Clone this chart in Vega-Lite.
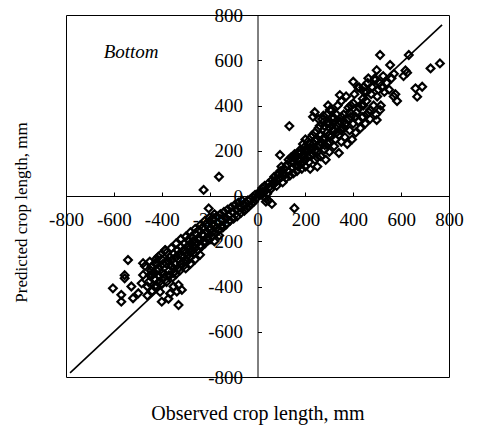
{
  "$schema": "https://vega.github.io/schema/vega-lite/v6.json",
  "width": 383,
  "height": 362,
  "autosize": {"type": "none"},
  "padding": {"left": 66, "top": 15, "right": 29, "bottom": 50},
  "background": "white",
  "config": {
    "view": {"stroke": "black", "strokeWidth": 1},
    "axis": {
      "grid": false,
      "domainColor": "black",
      "tickColor": "black",
      "labelColor": "black",
      "titleColor": "black",
      "labelFont": "Liberation Serif",
      "titleFont": "Liberation Serif",
      "labelFontSize": 19,
      "titleFontWeight": "normal",
      "labelFlush": false,
      "labelOverlap": false,
      "labelExpr": "'' + datum.value"
    }
  },
  "encoding": {
    "x": {
      "field": "x",
      "type": "quantitative",
      "scale": {"domain": [-800, 800], "nice": false, "zero": false},
      "axis": {
        "orient": "bottom",
        "offset": -181,
        "values": [-800, -600, -400, -200, 0, 200, 400, 600, 800],
        "tickSize": -4,
        "labelPadding": 18,
        "labelBaseline": "top",
        "title": "Observed crop length, mm",
        "titleFontSize": 20,
        "titleY": 217,
        "titleBaseline": "middle"
      }
    },
    "y": {
      "field": "y",
      "type": "quantitative",
      "scale": {"domain": [-800, 800], "nice": false, "zero": false},
      "axis": {
        "orient": "left",
        "offset": -191.5,
        "values": [-800, -600, -400, -200, 0, 200, 400, 600, 800],
        "tickSize": -4,
        "labelPadding": 19,
        "labelBaseline": "middle",
        "title": "Predicted crop length, mm",
        "titleFontSize": 17,
        "titleX": -236,
        "titleY": 197,
        "titleBaseline": "middle"
      }
    }
  },
  "layer": [
    {
      "data": {"values": [{"x": -783, "y": -782}, {"x": 771, "y": 756}]},
      "mark": {"type": "line", "color": "black", "strokeWidth": 1.6},
      "encoding": {}
    },
    {
      "data": {"values": [
        {"x":133,"y":309},{"x":512,"y":623},{"x":554,"y":579},{"x":632,"y":623},{"x":723,"y":564},{"x":762,"y":586},
        {"x":610,"y":530},{"x":618,"y":555},{"x":625,"y":545},{"x":660,"y":476},{"x":688,"y":483},{"x":667,"y":439},
        {"x":569,"y":440},{"x":583,"y":420},{"x":576,"y":450},{"x":512,"y":380},{"x":491,"y":512},{"x":498,"y":556},
        {"x":463,"y":520},{"x":400,"y":505},{"x":421,"y":480},{"x":442,"y":480},{"x":456,"y":460},{"x":442,"y":400},
        {"x":456,"y":360},{"x":470,"y":380},{"x":498,"y":336},{"x":351,"y":350},{"x":365,"y":317},{"x":344,"y":446},
        {"x":295,"y":400},{"x":302,"y":380},{"x":281,"y":225},{"x":232,"y":350},{"x":239,"y":370},
        {"x":5,"y":8},{"x":10,"y":20},{"x":15,"y":5},{"x":20,"y":35},{"x":25,"y":15},{"x":30,"y":45},{"x":35,"y":25},
        {"x":40,"y":10},{"x":45,"y":55},{"x":50,"y":40},{"x":55,"y":30},{"x":60,"y":70},{"x":65,"y":50},{"x":70,"y":85},
        {"x":75,"y":60},{"x":80,"y":45},{"x":85,"y":95},{"x":90,"y":75},{"x":95,"y":110},{"x":100,"y":85},{"x":105,"y":60},
        {"x":110,"y":120},{"x":115,"y":95},{"x":120,"y":80},{"x":125,"y":140},{"x":130,"y":110},{"x":135,"y":90},
        {"x":45,"y":-20},{"x":60,"y":-35},{"x":35,"y":-10},{"x":94,"y":181},
        {"x":140,"y":170},{"x":145,"y":125},{"x":150,"y":100},{"x":150,"y":150},{"x":155,"y":185},{"x":160,"y":135},
        {"x":165,"y":110},{"x":170,"y":160},{"x":175,"y":200},{"x":180,"y":140},{"x":185,"y":120},{"x":190,"y":175},
        {"x":195,"y":215},{"x":200,"y":160},{"x":200,"y":130},{"x":205,"y":195},{"x":210,"y":240},{"x":215,"y":150},
        {"x":220,"y":120},{"x":220,"y":210},{"x":225,"y":260},{"x":230,"y":185},{"x":235,"y":230},{"x":240,"y":160},
        {"x":240,"y":280},{"x":245,"y":205},{"x":250,"y":250},{"x":250,"y":130},{"x":255,"y":300},{"x":260,"y":225},
        {"x":265,"y":175},{"x":265,"y":270},{"x":270,"y":340},{"x":275,"y":250},{"x":280,"y":205},{"x":280,"y":310},
        {"x":285,"y":160},{"x":290,"y":280},{"x":290,"y":360},{"x":295,"y":230},{"x":300,"y":195},{"x":300,"y":320},
        {"x":305,"y":260},{"x":310,"y":380},{"x":315,"y":290},{"x":320,"y":220},{"x":320,"y":345},{"x":325,"y":250},
        {"x":330,"y":310},{"x":335,"y":400},{"x":340,"y":270},{"x":340,"y":190},{"x":345,"y":330},{"x":350,"y":240},
        {"x":350,"y":420},{"x":355,"y":300},{"x":360,"y":360},{"x":365,"y":260},{"x":370,"y":440},{"x":370,"y":320},
        {"x":375,"y":230},{"x":380,"y":390},{"x":385,"y":290},{"x":390,"y":350},{"x":395,"y":250},{"x":400,"y":410},
        {"x":400,"y":320},{"x":405,"y":450},{"x":410,"y":280},{"x":415,"y":370},{"x":420,"y":330},{"x":425,"y":480},
        {"x":430,"y":300},{"x":435,"y":400},{"x":440,"y":350},{"x":445,"y":460},{"x":450,"y":320},{"x":455,"y":420},
        {"x":460,"y":500},{"x":465,"y":370},{"x":470,"y":340},{"x":475,"y":450},{"x":480,"y":480},{"x":485,"y":400},
        {"x":490,"y":520},{"x":495,"y":360},{"x":500,"y":440},{"x":505,"y":470},{"x":510,"y":500},{"x":515,"y":400},
        {"x":520,"y":480},{"x":525,"y":530},{"x":530,"y":460},{"x":540,"y":500},{"x":550,"y":470},{"x":560,"y":520},
        {"x":570,"y":540},
        {"x":160,"y":170},{"x":170,"y":130},{"x":180,"y":190},{"x":190,"y":150},{"x":200,"y":200},{"x":210,"y":175},
        {"x":220,"y":230},{"x":230,"y":210},{"x":240,"y":245},{"x":250,"y":195},{"x":260,"y":270},{"x":270,"y":230},
        {"x":280,"y":260},{"x":290,"y":320},{"x":300,"y":270},{"x":310,"y":310},{"x":320,"y":290},{"x":330,"y":360},
        {"x":340,"y":320},{"x":350,"y":290},{"x":360,"y":330},{"x":380,"y":340},{"x":390,"y":400},{"x":300,"y":240},
        {"x":260,"y":310},{"x":240,"y":200},{"x":230,"y":270},{"x":220,"y":180},{"x":200,"y":250},{"x":190,"y":230},
        {"x":180,"y":160},{"x":150,"y":170},{"x":130,"y":160},{"x":120,"y":130},{"x":110,"y":90},{"x":100,"y":130},
        {"x":90,"y":100},{"x":80,"y":70},{"x":70,"y":65},
        {"x":255,"y":340},{"x":275,"y":355},{"x":310,"y":345},{"x":330,"y":280},{"x":360,"y":300},{"x":385,"y":370},
        {"x":410,"y":350},{"x":425,"y":390},{"x":440,"y":430},{"x":250,"y":170},{"x":215,"y":200},{"x":170,"y":190},
        {"x":-225,"y":27},{"x":-161,"y":85},{"x":-204,"y":-55},{"x":35,"y":-25},{"x":154,"y":-54},
        {"x":-541,"y":-283},{"x":-555,"y":-350},{"x":-555,"y":-364},{"x":-604,"y":-408},{"x":-569,"y":-437},{"x":-569,"y":-467},
        {"x":-527,"y":-400},{"x":-520,"y":-452},{"x":-498,"y":-430},{"x":-478,"y":-297},{"x":-478,"y":-349},{"x":-484,"y":-386},
        {"x":-442,"y":-312},{"x":-435,"y":-340},{"x":-428,"y":-370},{"x":-407,"y":-424},{"x":-400,"y":-467},{"x":-365,"y":-431},
        {"x":-372,"y":-454},{"x":-351,"y":-400},{"x":-337,"y":-422},{"x":-330,"y":-393},{"x":-330,"y":-482},{"x":-316,"y":-415},
        {"x":-414,"y":-268},{"x":-428,"y":-297},{"x":-386,"y":-239},
        {"x":-5,"y":-10},{"x":-10,"y":5},{"x":-15,"y":-25},{"x":-20,"y":-5},{"x":-25,"y":-35},{"x":-30,"y":-15},{"x":-35,"y":-45},
        {"x":-40,"y":-20},{"x":-45,"y":-55},{"x":-50,"y":-30},{"x":-55,"y":-65},{"x":-60,"y":-40},{"x":-65,"y":-20},{"x":-70,"y":-75},
        {"x":-75,"y":-50},{"x":-80,"y":-30},{"x":-85,"y":-90},{"x":-90,"y":-60},{"x":-95,"y":-40},{"x":-100,"y":-100},{"x":-105,"y":-70},
        {"x":-110,"y":-50},{"x":-115,"y":-110},{"x":-120,"y":-85},{"x":-125,"y":-60},{"x":-130,"y":-125},{"x":-135,"y":-95},
        {"x":-140,"y":-70},{"x":-145,"y":-140},{"x":-150,"y":-105},{"x":-155,"y":-80},{"x":-160,"y":-150},{"x":-165,"y":-120},
        {"x":-170,"y":-90},{"x":-175,"y":-165},{"x":-180,"y":-130},{"x":-185,"y":-100},{"x":-190,"y":-180},{"x":-195,"y":-145},
        {"x":-200,"y":-110},{"x":-205,"y":-195},{"x":-210,"y":-160},{"x":-215,"y":-125},{"x":-220,"y":-210},{"x":-225,"y":-175},
        {"x":-230,"y":-140},{"x":-235,"y":-225},{"x":-240,"y":-190},{"x":-245,"y":-150},{"x":-250,"y":-240},{"x":-255,"y":-205},
        {"x":-260,"y":-165},{"x":-265,"y":-255},{"x":-270,"y":-220},{"x":-275,"y":-180},{"x":-280,"y":-270},{"x":-285,"y":-235},
        {"x":-290,"y":-195},{"x":-295,"y":-290},{"x":-300,"y":-250},{"x":-305,"y":-210},{"x":-310,"y":-310},{"x":-315,"y":-265},
        {"x":-320,"y":-225},{"x":-325,"y":-330},{"x":-330,"y":-280},{"x":-335,"y":-240},{"x":-340,"y":-345},{"x":-345,"y":-300},
        {"x":-350,"y":-255},{"x":-355,"y":-360},{"x":-360,"y":-310},{"x":-365,"y":-270},{"x":-370,"y":-330},{"x":-375,"y":-285},
        {"x":-380,"y":-380},{"x":-385,"y":-240},{"x":-390,"y":-345},{"x":-395,"y":-300},{"x":-400,"y":-390},{"x":-405,"y":-260},
        {"x":-410,"y":-355},{"x":-415,"y":-320},{"x":-420,"y":-400},{"x":-425,"y":-280},{"x":-430,"y":-365},{"x":-440,"y":-420},
        {"x":-445,"y":-330},{"x":-450,"y":-290},{"x":-455,"y":-380},{"x":-460,"y":-440},{"x":-470,"y":-310},
        {"x":-250,"y":-190},{"x":-260,"y":-230},{"x":-280,"y":-250},{"x":-300,"y":-280},{"x":-320,"y":-300},{"x":-340,"y":-270},
        {"x":-290,"y":-220},{"x":-270,"y":-200},{"x":-230,"y":-170},{"x":-210,"y":-185},{"x":-190,"y":-160},{"x":-170,"y":-140},
        {"x":-150,"y":-130},{"x":-130,"y":-100},{"x":-200,"y":-150},{"x":-220,"y":-200},{"x":-240,"y":-220},{"x":-310,"y":-240},
        {"x":-330,"y":-260},{"x":-350,"y":-320},{"x":-360,"y":-285},{"x":-380,"y":-300},{"x":-400,"y":-340},{"x":-420,"y":-330},
        {"x":-300,"y":-320},{"x":-280,"y":-300},{"x":-260,"y":-280},{"x":-240,"y":-260},{"x":-180,"y":-200},{"x":-160,"y":-175},
        {"x":-300,"y":-180},{"x":-320,"y":-190},{"x":-340,"y":-210},{"x":-360,"y":-230},{"x":-380,"y":-250},{"x":-280,"y":-160},
        {"x":-260,"y":-145},{"x":-240,"y":-130},{"x":-220,"y":-110},{"x":-200,"y":-95},{"x":-180,"y":-80},{"x":-400,"y":-280},
        {"x":-420,"y":-300},{"x":-440,"y":-350},{"x":-460,"y":-400},{"x":-450,"y":-350},{"x":-430,"y":-400},{"x":-410,"y":-380},
        {"x":-390,"y":-360},{"x":-370,"y":-350},{"x":-350,"y":-340},{"x":-330,"y":-320},{"x":-310,"y":-290},{"x":-290,"y":-260},
        {"x":-270,"y":-240}
      ]},
      "mark": {"type": "point", "shape": "diamond", "filled": false, "stroke": "black", "strokeWidth": 2.2, "size": 60, "opacity": 1}
    },
    {
      "data": {"values": [{"x": -528, "y": 636, "label": "Bottom"}]},
      "mark": {"type": "text", "font": "Liberation Serif", "fontStyle": "italic", "fontSize": 19, "align": "center", "baseline": "middle", "color": "black"},
      "encoding": {"text": {"field": "label"}}
    }
  ]
}
